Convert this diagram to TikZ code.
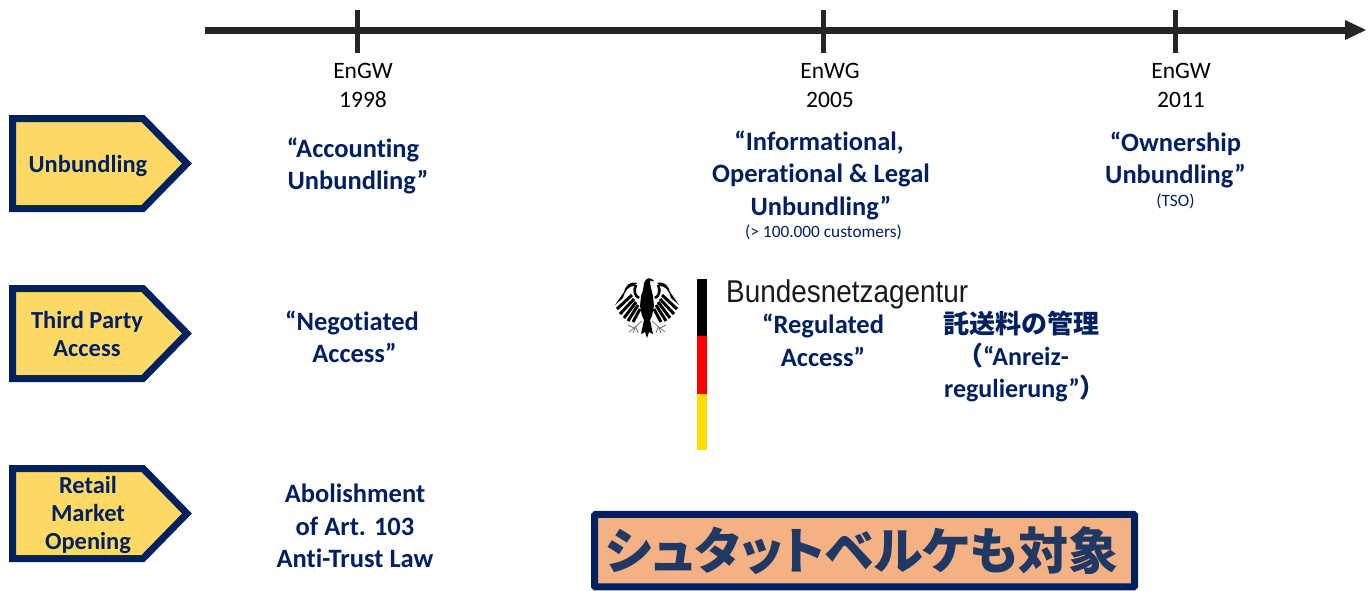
\documentclass[tikz,border=0pt]{standalone}
\usepackage{fontspec}
\setmainfont{Carlito}[Ligatures=NoCommon]
\newfontfamily\cjk{Noto Sans CJK JP}
\newfontfamily\cjkp[RawFeature=+palt]{Noto Sans CJK JP}
\newfontfamily\logofont{Liberation Sans}
\definecolor{navy}{HTML}{002060}
\definecolor{gold}{HTML}{FFD966}
\definecolor{peach}{HTML}{F4B183}
\definecolor{axisc}{HTML}{262626}
\definecolor{boxtext}{HTML}{1F3864}
\tikzset{
 x=1pt,y=-1pt,
 pentabox/.style={draw=navy,fill=gold,line width=7pt,miter limit=10},
 tickline/.style={draw=axisc,line width=5pt},
 yearlabel/.style={font=\fontsize{23.5}{28.5}\selectfont,text=black,align=center,inner sep=0pt},
 rowlabel/.style={font=\fontsize{24.5}{28}\selectfont\bfseries,text=navy,align=center,inner sep=0pt},
 maintext/.style={font=\fontsize{26.5}{32.5}\selectfont\bfseries,text=navy,align=center,inner sep=0pt},
 smalltext/.style={font=\fontsize{17.3}{19}\selectfont,text=navy,align=center,inner sep=0pt},
}
\begin{document}
\begin{tikzpicture}
\useasboundingbox (0,0) rectangle (1372,590);
\clip (0,0) rectangle (1372,590);
% axis
\coordinate (axisstart) at (205,30);
\coordinate (axisend) at (1346,30);
\draw[draw=axisc,line width=7pt] (axisstart) -- (axisend);
\fill[axisc] (1345,20) -- (1366,30) -- (1345,40) -- cycle;
\draw[tickline] (357,10) -- (357,53);
\draw[tickline] (823,10) -- (823,53);
\draw[tickline] (1175,10) -- (1175,53);
\node[yearlabel] (y1) at (363,85.5) {EnGW\\1998};
\node[yearlabel] (y2) at (830,85.5) {EnWG\\2005};
\node[yearlabel] (y3) at (1181,85.5) {EnGW\\2011};
% pentagons
\foreach \c in {163.5,333.5,513.5}{
 \draw[pentabox] (12.5,\c-45) -- (143,\c-45) -- (187,\c) -- (143,\c+45) -- (12.5,\c+45) -- cycle;
}
\node[rowlabel] (r1) at (88,166) {Unbundling};
\node[rowlabel] (r2) at (87,333.5) {Third Party\\Access};
\node[rowlabel] (r3) at (88,515) {Retail\\Market\\Opening};
% texts
\node[maintext] (a1) at (353,166) {“Accounting\\\hspace*{10pt}Unbundling”};
\node[maintext] (a2) at (821,175) {“Informational,\hspace*{4pt}\\Operational \& Legal\\Unbundling”};
\node[smalltext] (a2s) at (823.5,232) {(> 100.000 customers)};
\node[maintext] (a3) at (1175.5,160) {“Ownership\\Unbundling”};
\node[smalltext] (a3s) at (1175.5,201) {(TSO)};
\node[maintext] (b1) at (352,337) {“Negotiated\\\hspace*{5pt}Access”};
\node[maintext] (b2) at (823,340.5) {“Regulated\\Access”};
\node[maintext,font=\fontsize{26}{32}\selectfont\bfseries,anchor=north] (b3) at (1021,310.5) {{\cjk 託送料の管理}\\{\cjk （}“Anreiz-\hspace*{16pt}\mbox{}\\\hspace*{8pt}regulierung”{\cjk ）}};
\node[maintext] (c1) at (355,526) {Abolishment\\of Art. 103\\Anti-Trust Law};
% logo
\fill[black] (697,279) rectangle (707,336);
\fill[red] (697,336) rectangle (707,394);
\fill[yellow!80!orange] (697,394) rectangle (707,450);
\node[inner sep=0pt,anchor=west,xscale=.93,yscale=1.05,font=\fontsize{30}{32}\logofont,text=black!90] (logo) at (726,294) {Bundesnetzagentur};
% eagle
\begin{scope}[shift={(647,308)}]
 \fill[black] (-3,-25) .. controls (-1,-31) and (4,-31) .. (7,-27) -- (3,-25) -- (4,-20) -- (6,-12) -- (7,-2) -- (5,8) -- (3,12) -- (6,26) -- (2,24) -- (0,30) -- (-2,24) -- (-6,26) -- (-3,12) -- (-5,8) -- (-7,-2) -- (-6,-12) -- (-4,-18) -- cycle;
 \foreach \s in {1,-1}{
  \begin{scope}[xscale=\s]
   \fill[black] (10,-25) .. controls (17,-27) and (21,-23) .. (23,-16) -- (32,-3) -- (24,-10) .. controls (22,-18) and (18,-22) .. (13,-22) -- cycle;
   \draw[black,line width=2.6pt] (8,-10) .. controls (12,-12) and (14,-17) .. (11,-23);
   \draw[black,line width=3pt] (15,-13) -- (30,1);
   \draw[black,line width=3pt] (13,-9) -- (27,6);
   \draw[black,line width=3pt] (11,-6) -- (23,10);
   \draw[black,line width=3pt] (9,-3) -- (19,13);
   \draw[black,line width=3pt] (7,1) -- (14,14);
   \draw[black!60,line width=.7pt] (5,13) -- (13,20) -- (19,17) (13,20) -- (18,24) (12,20) -- (14,25) (11,19) -- (9,25);
  \end{scope}
 }
 \fill[white] (3.5,-27.5) -- (6,-26.5) -- (3,-25) -- cycle;
\end{scope}
% bottom box
\node[draw=navy,fill=peach,line width=7pt,rounded corners=1pt,minimum width=540pt,minimum height=72.5pt,inner sep=0pt] (bb) at (864.5,550.7) {};
\node[inner sep=0pt,text=boxtext,font=\fontsize{50}{52}\cjkp\bfseries] (bbtext) at ([xshift=-2.5pt]bb.center) {シュタットベルケも対象};
\end{tikzpicture}
\end{document}
